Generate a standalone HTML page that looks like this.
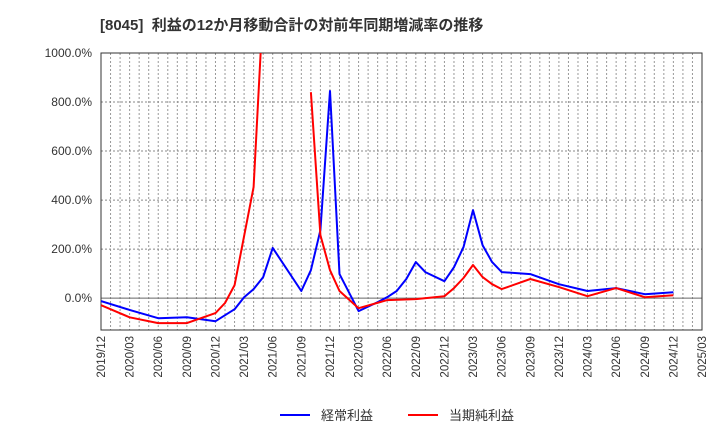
<!DOCTYPE html>
<html><head><meta charset="utf-8"><style>
body{margin:0;background:#fff;font-family:"Liberation Sans","Noto Sans CJK JP",sans-serif;}
svg text{font-family:"Liberation Sans","Noto Sans CJK JP",sans-serif;}
</style></head><body>
<svg id="chart" width="720" height="440" xmlns="http://www.w3.org/2000/svg">
<text x="100" y="30" font-size="15" font-weight="bold" fill="#333">[8045]&#160;&#160;利益の12か月移動合計の対前年同期増減率の推移</text>
</svg>
<script>
const xTickLabels=["2019/12","2020/03","2020/06","2020/09","2020/12","2021/03","2021/06","2021/09","2021/12","2022/03","2022/06","2022/09","2022/12","2023/03","2023/06","2023/09","2023/12","2024/03","2024/06","2024/09","2024/12","2025/03"];
const yTicks=[0,200,400,600,800,1000];
const blueMonths=[0,3,6,9,12,14,15,16,17,18,21,22,23,24,25,27,29,30,31,32,33,34,36,37,38,39,40,41,42,45,48,51,54,57,60];
const blueValues=[-12,-48,-82,-78,-94,-45,4,37,86,205,29,114,277,845,98,-53,-16,4,29,78,147,106,69,126,208,359,216,147,106,98,57,29,41,16,24];
const redMonths=[0,3,6,9,12,13,14,16,17,18,19,20,21,22,23,24,25,27,30,33,36,37,38,39,40,41,42,45,48,51,54,57,60];
const redValues=[-29,-78,-102,-102,-61,-20,53,453,1200,null,null,null,null,840,257,114,29,-41,-8,-4,8,41,82,135,86,57,37,78,45,8,41,4,12];
const NS="http://www.w3.org/2000/svg";
const svg=document.getElementById('chart');
const L=101,R=702,T=53,B=330,yMin=-130,yMax=1000,mMax=63;
const xS=m=>L+(R-L)*m/mMax;
const yS=v=>B-(B-T)*(v-yMin)/(yMax-yMin);
function mk(tag,attrs,parent){const e=document.createElementNS(NS,tag);for(const k in attrs)e.setAttribute(k,attrs[k]);(parent||svg).appendChild(e);return e;}
const defs=mk('defs',{});const cp=mk('clipPath',{id:'pc'},defs);mk('rect',{x:L,y:T,width:R-L,height:B-T},cp);
const grid=mk('g',{});


for(let m=1;m<mMax;m++){mk('line',{x1:xS(m),x2:xS(m),y1:T,y2:B,stroke:'#999','stroke-dasharray':'2,2','stroke-width':1},grid);}
yTicks.forEach(v=>{
 mk('line',{x1:L,x2:R,y1:yS(v),y2:yS(v),stroke:v===0?'#666':'#888','stroke-dasharray':v===0?'':'2,2','stroke-width':1},grid);
 const t=mk('text',{x:92,y:yS(v)+4,'text-anchor':'end','font-size':12,fill:'#333'});
 t.textContent=v.toFixed(1)+'%';
 
 
});
const frame=mk('rect',{x:L,y:T,width:R-L,height:B-T,fill:'none',stroke:'#333','stroke-width':1});


xTickLabels.forEach((s,i)=>{
 const x=xS(i*3);
 const t=mk('text',{x:0,y:0,transform:`translate(${x+4},336) rotate(-90)`,'text-anchor':'end','font-size':11.5,fill:'#333'});
 t.textContent=s;
 
 
});
function series(months,vals,color,name){
 let d='',pen=false;
 months.forEach((m,i)=>{const v=vals[i];if(v===null){pen=false;return;}d+=(pen?'L':'M')+xS(m).toFixed(1)+','+yS(v).toFixed(1);pen=true;});
 const p=mk('path',{d:d,fill:'none',stroke:color,'stroke-width':2,'clip-path':'url(#pc)','stroke-linejoin':'round'});
 
 
}
series(blueMonths,blueValues,'#0000ff','ordinary-profit-line');
series(redMonths,redValues,'#ff0000','net-income-line');
function legend(x,color,label,name){
 const g=mk('g',{});
 
 
 mk('line',{x1:x,x2:x+30,y1:415,y2:415,stroke:color,'stroke-width':2},g);
 const t=mk('text',{x:x+41,y:420,'font-size':13,fill:'#333'},g);t.textContent=label;
}
legend(280,'#0000ff','経常利益','legend-ordinary-profit');
legend(408,'#ff0000','当期純利益','legend-net-income');
</script>
</body></html>
